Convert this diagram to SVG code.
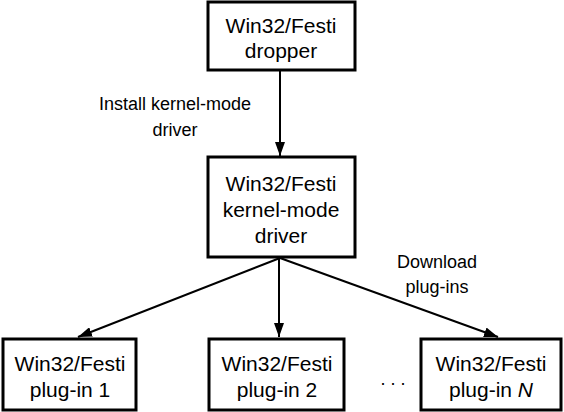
<svg xmlns="http://www.w3.org/2000/svg" width="564" height="412" viewBox="0 0 564 412">
<style>
.box{fill:#fff;stroke:#000;stroke-width:3}
.t{font-family:"Liberation Sans",Arial,sans-serif;font-size:21px;text-anchor:middle;fill:#000}
.l{font-family:"Liberation Sans",Arial,sans-serif;font-size:18px;text-anchor:middle;fill:#000}
.c{stroke:#000;stroke-width:2;fill:none;marker-end:url(#ah)}
</style>
<defs>
<marker id="ah" viewBox="0 0 14 10" refX="14" refY="5" markerWidth="14" markerHeight="10" markerUnits="userSpaceOnUse" orient="auto">
<path d="M0,0 L14,5 L0,10 Z" fill="#000"/>
</marker>
</defs>
<g id="connectors">
<line class="c" x1="280" y1="70" x2="280" y2="156"/>
<line class="c" x1="280" y1="258" x2="78" y2="337"/>
<line class="c" x1="279" y1="258" x2="279" y2="337"/>
<line class="c" x1="280" y1="258" x2="498" y2="337"/>
</g>
<g id="dropper">
<rect class="box" x="208" y="2" width="147" height="68"/>
<text class="t" x="281" y="33">Win32/Festi</text>
<text class="t" x="281" y="58">dropper</text>
</g>
<g id="driver">
<rect class="box" x="208" y="157" width="147" height="100"/>
<text class="t" x="281" y="191">Win32/Festi</text>
<text class="t" x="281" y="217">kernel-mode</text>
<text class="t" x="281" y="243">driver</text>
</g>
<g id="plugin1">
<rect class="box" x="3" y="339" width="133" height="71"/>
<text class="t" x="70" y="371">Win32/Festi</text>
<text class="t" x="70" y="397">plug-in 1</text>
</g>
<g id="plugin2">
<rect class="box" x="209" y="339" width="135" height="71"/>
<text class="t" x="277" y="371">Win32/Festi</text>
<text class="t" x="277" y="397">plug-in 2</text>
</g>
<g id="pluginN">
<rect class="box" x="421" y="339" width="140" height="71"/>
<text class="t" x="491" y="371">Win32/Festi</text>
<text class="t" x="491" y="397">plug-in <tspan font-style="italic">N</tspan></text>
</g>
<g id="labels">
<text class="l" x="175" y="110">Install kernel-mode</text>
<text class="l" x="175" y="136">driver</text>
<text class="l" x="437" y="268">Download</text>
<text class="l" x="437" y="293">plug-ins</text>
<text class="l" x="393" y="385">. . .</text>
</g>
</svg>
